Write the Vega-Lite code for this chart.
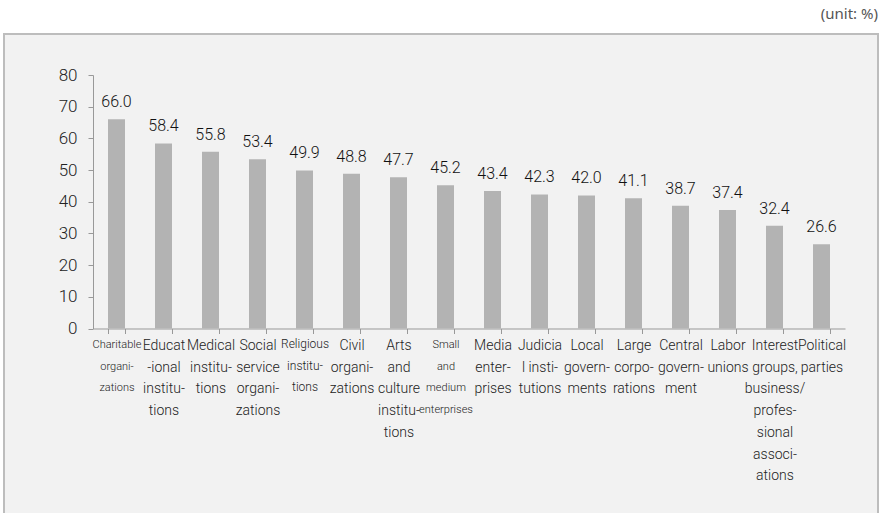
{
  "$schema": "https://vega.github.io/schema/vega-lite/v6.json",
  "width": 874,
  "height": 486,
  "autosize": {"type": "none"},
  "padding": {"left": 4, "top": 34, "right": 2, "bottom": 0},
  "background": "#ffffff",
  "title": {
    "text": "(unit: %)",
    "anchor": "end",
    "orient": "top",
    "offset": 12,
    "font": "Noto Sans",
    "fontSize": 15,
    "fontWeight": "normal",
    "color": "#555555"
  },
  "config": {
    "view": {"fill": "#f2f2f2", "stroke": "#bdbdbd", "strokeWidth": 2},
    "font": "Roboto",
    "text": {"font": "Roboto", "fontWeight": 300},
    "axis": {"labelFont": "Roboto", "labelFontWeight": 300}
  },
  "data": {
    "values": [
      {"category": "Charitable|organi-|zations", "value": 66.0},
      {"category": "Educat|-ional|institu-|tions", "value": 58.4},
      {"category": "Medical|institu-|tions", "value": 55.8},
      {"category": "Social|service|organi-|zations", "value": 53.4},
      {"category": "Religious|institu-|tions", "value": 49.9},
      {"category": "Civil|organi-|zations", "value": 48.8},
      {"category": "Arts|and|culture|institu-|tions", "value": 47.7},
      {"category": "Small|and|medium|enterprises", "value": 45.2},
      {"category": "Media|enter-|prises", "value": 43.4},
      {"category": "Judicia|l insti-|tutions", "value": 42.3},
      {"category": "Local|govern-|ments", "value": 42.0},
      {"category": "Large|corpo-|rations", "value": 41.1},
      {"category": "Central|govern-|ment", "value": 38.7},
      {"category": "Labor|unions", "value": 37.4},
      {"category": "Interest|groups,|business/|profes-|sional|associ-|ations", "value": 32.4},
      {"category": "Political|parties", "value": 26.6}
    ]
  },
  "encoding": {
    "x": {
      "field": "category",
      "type": "nominal",
      "sort": null,
      "scale": {"range": [89, 841], "paddingInner": 0.638, "paddingOuter": 0.319},
      "axis": {
        "title": null,
        "orient": "bottom",
        "offset": -191.5,
        "domain": true,
        "domainColor": "#999999",
        "tickBand": "extent",
        "tickSize": 5,
        "tickColor": "#999999",
        "labelAngle": 0,
        "labelExpr": "datum.value ? split(datum.value, '|') : ''",
        "labelFontSize": {
          "condition": [
            {"test": "datum.value == 'Charitable|organi-|zations' || datum.value == 'Small|and|medium|enterprises'", "value": 11},
            {"test": "datum.value == 'Religious|institu-|tions'", "value": 12}
          ],
          "value": 14
        },
        "labelLineHeight": 21.7,
        "labelColor": "#222222",
        "labelPadding": 5,
        "labelBaseline": "top",
        "labelLimit": 200
      }
    },
    "y": {
      "field": "value",
      "type": "quantitative",
      "scale": {"domain": [0, 80], "range": [294.5, 41], "nice": false},
      "axis": {
        "title": null,
        "orient": "left",
        "offset": -89,
        "domain": true,
        "domainColor": "#999999",
        "grid": false,
        "values": [0, 10, 20, 30, 40, 50, 60, 70, 80],
        "tickSize": 5,
        "tickColor": "#999999",
        "labelFontSize": 17,
        "labelColor": "#222222",
        "labelPadding": 11
      }
    }
  },
  "layer": [
    {
      "mark": {"type": "bar", "color": "#b3b3b3"}
    },
    {
      "mark": {"type": "text", "baseline": "bottom", "dy": -9, "fontSize": 16, "color": "#111111"},
      "encoding": {
        "text": {"field": "value", "type": "quantitative", "format": ".1f"}
      }
    }
  ]
}
